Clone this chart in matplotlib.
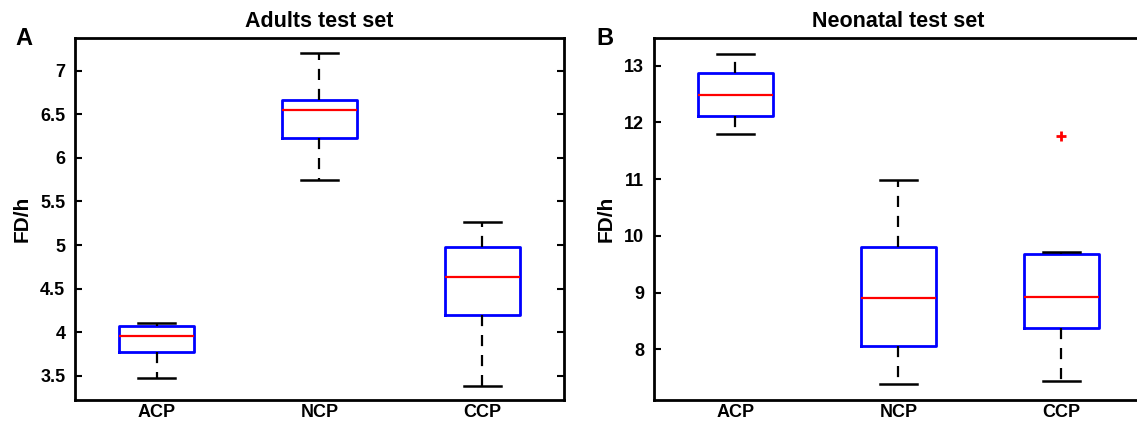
import matplotlib
matplotlib.use("Agg")
import matplotlib.pyplot as plt

plt.rcParams['font.family'] = ['Liberation Sans', 'DejaVu Sans']
plt.rcParams['font.weight'] = 'bold'

groups = ["ACP", "NCP", "CCP"]

# adults test set: low whisker, q1, median, q3, high whisker
adult_low = [3.48, 5.75, 3.38]
adult_q1 = [3.78, 6.23, 4.20]
adult_med = [3.96, 6.55, 4.63]
adult_q3 = [4.07, 6.66, 4.98]
adult_high = [4.11, 7.20, 5.27]
adult_fliers = [[], [], []]

# neonatal test set
neo_low = [11.80, 7.40, 7.45]
neo_q1 = [12.12, 8.06, 8.38]
neo_med = [12.48, 8.90, 8.92]
neo_q3 = [12.88, 9.80, 9.68]
neo_high = [13.20, 10.98, 9.72]
neo_fliers = [[], [], [11.76]]


def make_stats(low, q1, med, q3, high, fliers):
    stats = []
    for i, g in enumerate(groups):
        stats.append(dict(label=g, whislo=low[i], q1=q1[i], med=med[i],
                          q3=q3[i], whishi=high[i], fliers=fliers[i]))
    return stats


def draw_panel(ax, stats, title, letter, letter_x, ylim, yticks, yticklabels,
               right_ticks=True):
    ax.bxp(stats, widths=0.46, capwidths=0.225, showfliers=True,
           boxprops=dict(color="#0000ff", linewidth=2),
           medianprops=dict(color="#ff0000", linewidth=1.6),
           whiskerprops=dict(color="black", linewidth=1.6, linestyle=(0, (5, 4))),
           capprops=dict(color="black", linewidth=1.8),
           flierprops=dict(marker="+", markeredgecolor="#ff0000",
                           markersize=7, markeredgewidth=2))
    ax.set_xlim(0.5, 3.5)
    ax.set_ylim(*ylim)
    ax.set_yticks(yticks)
    ax.set_yticklabels(yticklabels)
    ax.tick_params(axis="y", direction="in", length=5, width=1.5,
                   right=right_ticks, labelsize=13, pad=7)
    ax.tick_params(axis="x", length=0, labelsize=13, pad=3)
    for s in ax.spines.values():
        s.set_linewidth(2)
    ax.set_ylabel("FD/h", fontsize=15, fontweight="bold", labelpad=6)
    ax.set_title(title, fontsize=15.5, fontweight="bold", pad=8)
    ax.text(letter_x, 0.981, letter, transform=ax.transAxes, fontsize=17,
            fontweight="bold", ha="left", va="baseline")


fig = plt.figure(figsize=(11.37, 4.23), dpi=100)
ax1 = fig.add_axes([0.066, 0.0544, 0.43, 0.856])
ax2 = fig.add_axes([0.5752, 0.0544, 0.43, 0.856])

draw_panel(ax1, make_stats(adult_low, adult_q1, adult_med, adult_q3, adult_high, adult_fliers),
           "Adults test set", "A", -0.121, (3.225, 7.375),
           [3.5, 4, 4.5, 5, 5.5, 6, 6.5, 7],
           ["3.5", "4", "4.5", "5", "5.5", "6", "6.5", "7"])
draw_panel(ax2, make_stats(neo_low, neo_q1, neo_med, neo_q3, neo_high, neo_fliers),
           "Neonatal test set", "B", -0.117, (7.11, 13.49),
           [8, 9, 10, 11, 12, 13],
           ["8", "9", "10", "11", "12", "13"], right_ticks=False)

fig.savefig("out.png", dpi=100)
